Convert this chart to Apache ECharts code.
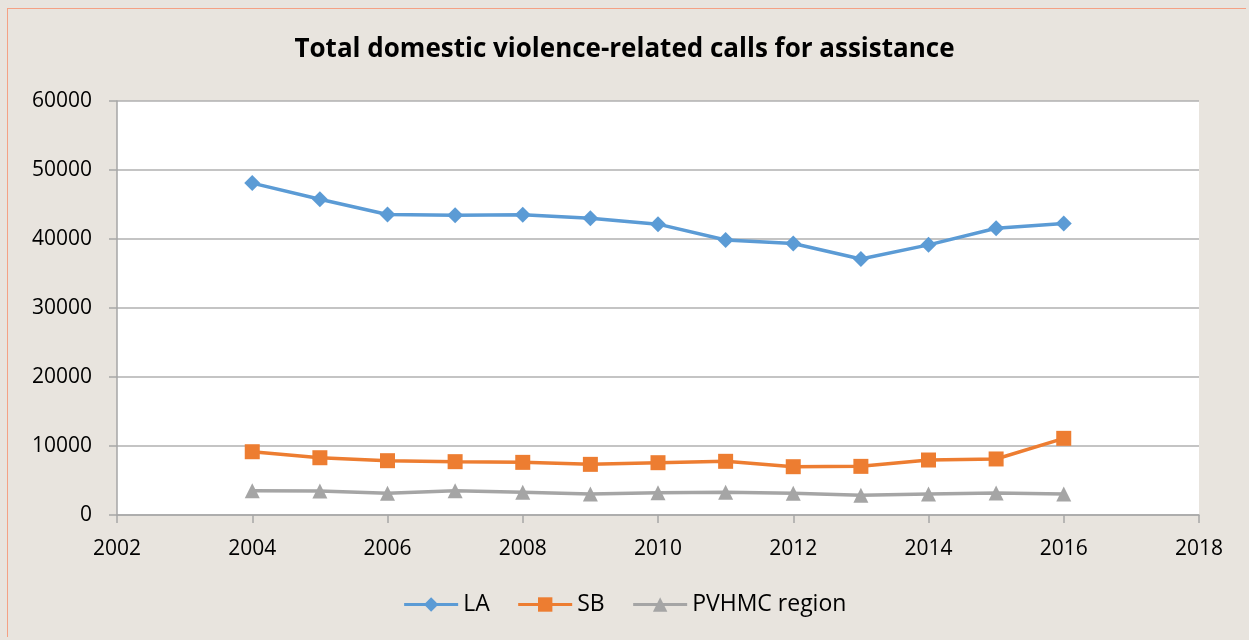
<!DOCTYPE html>
<html>
<head>
<meta charset="utf-8">
<script src="https://cdn.jsdelivr.net/npm/echarts@6/dist/echarts.min.js"></script>
<style>
  html, body { margin: 0; padding: 0; background: #e8e4de; }
  #wrap {
    position: absolute; left: 7px; top: 8px; width: 1238px; height: 628px;
    border: 1.5px solid #f4a184; border-right: none; border-bottom: none;
  }
  #chart { position: absolute; left: 0; top: 0; width: 1249px; height: 640px; }
</style>
</head>
<body>
<div id="wrap"></div>
<div id="chart"></div>
<script>
// years and values
var years = [2004, 2005, 2006, 2007, 2008, 2009, 2010, 2011, 2012, 2013, 2014, 2015, 2016];
var laCalls = [48100, 45750, 43550, 43450, 43500, 43000, 42150, 39850, 39350, 37100, 39150, 41550, 42250];
var sbCalls = [9170, 8300, 7870, 7730, 7630, 7340, 7580, 7780, 7000, 7050, 7970, 8120, 11110];
var pvhmcCalls = [3520, 3480, 3140, 3500, 3290, 3040, 3240, 3290, 3140, 2850, 3040, 3190, 3040];

function pairs(vals) {
  return years.map(function (y, i) { return [y, vals[i]]; });
}

var font = '"Open Sans", "Liberation Sans", sans-serif';
var chart = echarts.init(document.getElementById("chart"));
chart.setOption({
  animation: false,
  textStyle: { fontFamily: font },
  title: {
    text: "Total domestic violence-related calls for assistance",
    left: "center",
    top: 32,
    textStyle: { fontSize: 26, fontWeight: "bold", color: "#000", fontFamily: font }
  },
  grid: {
    left: 117, right: 50, top: 101, bottom: 125,
    show: true, backgroundColor: "#fff", borderWidth: 0
  },
  legend: {
    bottom: 19,
    left: "center",
    itemWidth: 54,
    itemHeight: 18,
    itemGap: 27,
    lineStyle: { width: 3 },
    textStyle: { fontSize: 23, color: "#000", fontFamily: font },
    data: ["LA", "SB", "PVHMC region"]
  },
  xAxis: {
    type: "value",
    min: 2002,
    max: 2018,
    interval: 2,
    axisLine: { show: true, lineStyle: { color: "#a6a6a6", width: 1.5 } },
    axisTick: { show: true, length: 8, lineStyle: { color: "#a6a6a6", width: 1.5 } },
    axisLabel: { color: "#000", fontSize: 21, margin: 24, fontFamily: font, formatter: function (v) { return String(v); } },
    splitLine: { show: false }
  },
  yAxis: {
    type: "value",
    min: 0,
    max: 60000,
    interval: 10000,
    axisLine: { show: true, lineStyle: { color: "#a6a6a6", width: 1.5 } },
    axisTick: { show: true, length: 8, lineStyle: { color: "#a6a6a6", width: 1.5 } },
    axisLabel: { color: "#000", fontSize: 21, margin: 25, fontFamily: font, formatter: function (v) { return String(v); } },
    splitLine: { show: true, lineStyle: { color: "#b0b0b0", width: 1.5 } }
  },
  series: [
    {
      name: "LA",
      type: "line",
      data: pairs(laCalls),
      symbol: "diamond",
      symbolSize: 16,
      lineStyle: { color: "#5b9bd5", width: 3.5 },
      itemStyle: { color: "#5b9bd5" }
    },
    {
      name: "SB",
      type: "line",
      data: pairs(sbCalls),
      symbol: "rect",
      symbolSize: 15,
      lineStyle: { color: "#ed7d31", width: 3.5 },
      itemStyle: { color: "#ed7d31" }
    },
    {
      name: "PVHMC region",
      type: "line",
      data: pairs(pvhmcCalls),
      symbol: "triangle",
      symbolSize: 15,
      lineStyle: { color: "#a5a5a5", width: 3.5 },
      itemStyle: { color: "#a5a5a5" }
    }
  ]
});
</script>
</body>
</html>
